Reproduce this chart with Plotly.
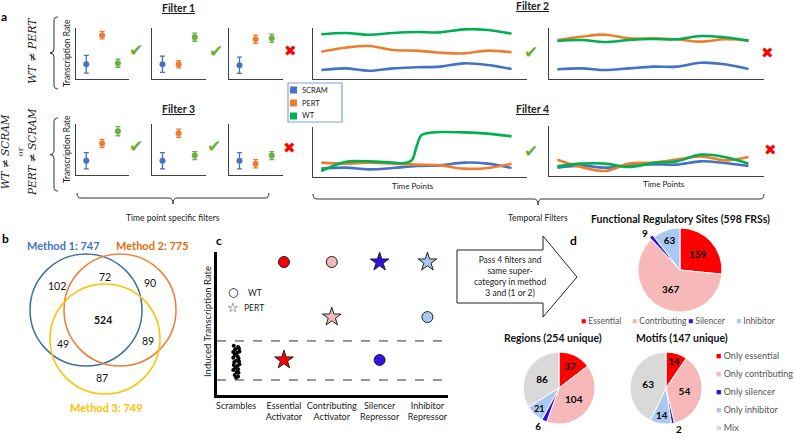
import plotly.graph_objects as go

W, H = 795, 439
FONT = "Lato, 'Open Sans', sans-serif"

# ======================= DATA =======================
# Panel a - time point specific filters (x = condition, y = transcription rate)
conditions = ["SCRAM", "PERT", "WT"]
cond_pos = [1, 2, 3]
filter1_vals = [[2.9, 8.6, 3.1], [2.9, 2.9, 8.2], [2.7, 7.8, 8.0]]
filter1_err = [[1.75, 0.75, 0.8], [1.6, 0.7, 0.8], [1.6, 0.8, 0.8]]
filter3_vals = [[2.8, 6.2, 8.6], [2.8, 8.2, 3.8], [2.8, 2.2, 3.8]]
filter3_err = [[1.6, 0.8, 0.9], [1.6, 0.8, 0.8], [1.6, 0.8, 0.8]]
filter13_pass = [True, True, False]

# Panel a - temporal filters
time_points = [0, 1, 2, 3, 4, 5, 6, 7, 8]
f2_pass_scram = [1.76, 2.09, 1.63, 2.09, 2.29, 2.42, 3.07, 2.75, 1.96]
f2_pass_pert = [5.36, 6.14, 6.47, 5.69, 5.56, 5.16, 5.03, 5.56, 5.23]
f2_pass_wt = [8.76, 9.02, 8.69, 9.02, 9.22, 9.15, 9.74, 9.61, 8.89]
f2_fail_scram = [1.90, 2.09, 1.76, 2.09, 2.42, 2.42, 3.20, 2.88, 1.96]
f2_fail_pert = [7.65, 8.30, 8.69, 7.97, 7.97, 7.78, 7.32, 7.78, 7.52]
f2_fail_wt = [7.45, 7.65, 7.25, 7.65, 7.84, 7.78, 8.43, 8.17, 7.52]
f4_pass_scram = [1.67, 1.87, 1.53, 1.80, 2.20, 2.33, 2.87, 2.67, 1.80]
f4_pass_pert = [2.87, 2.67, 2.87, 2.67, 2.47, 2.33, 1.67, 1.80, 2.67]
f4_pass_wt_time = [0, 1, 2, 3, 3.5, 3.8, 4.0, 4.2, 4.5, 5, 6, 7, 8]
f4_pass_wt = [1.2, 3.0, 3.13, 2.87, 2.8, 3.33, 6.0, 8.33, 8.8, 9.0, 8.93, 8.67, 8.13]
f4_fail_scram = [1.67, 2.07, 1.67, 2.13, 2.33, 2.27, 2.93, 2.60, 2.00]
f4_fail_pert = [3.27, 1.80, 1.00, 2.47, 2.67, 3.27, 3.93, 3.13, 3.80]
f4_fail_wt = [1.93, 2.47, 2.47, 1.80, 2.60, 2.93, 4.27, 3.80, 2.47]

# Panel b - Venn counts
venn_totals = [747, 775, 749]
venn_regions = ["1 only", "1&2 only", "2 only", "1&2&3", "1&3 only", "2&3 only", "3 only"]
venn_counts = [102, 72, 90, 524, 49, 89, 87]

# Panel c - schematic categories
c_categories = ["Scrambles", "Essential<br>Activator", "Contributing<br>Activator",
                "Silencer<br>Repressor", "Inhibitor<br>Repressor"]
c_pos = [0, 1, 2, 3, 4]
c_wt = [9.3, 9.3, 2.45, 5.45]
c_pert = [2.45, 5.45, 9.3, 9.3]
c_thresholds = [3.78, 1.05]
scramble_x = [-0.05, 0.04, -0.02, 0.06, -0.06, 0.02, 0.07, -0.03, 0.03, -0.06, 0.05, 0.0,
              -0.04, 0.06, -0.05, 0.03, 0.07, -0.02, 0.04, -0.06, 0.01, 0.05, -0.03, 0.04, 0.0]
scramble_y = [3.45, 3.35, 3.2, 3.25, 3.0, 2.95, 3.05, 2.8, 2.7, 2.6, 2.55, 2.4, 2.3, 2.35,
              2.1, 2.05, 2.15, 1.9, 1.8, 1.75, 1.6, 1.55, 1.4, 1.3, 1.2]

# Panel d - pies
frs_labels = ["Essential", "Contributing", "Silencer", "Inhibitor"]
frs_values = [159, 367, 9, 63]
sub_labels = ["Only essential", "Only contributing", "Only silencer", "Only inhibitor", "Mix"]
regions_values = [37, 104, 6, 21, 86]
motifs_values = [14, 54, 2, 14, 63]

# ======================= STYLE =======================
COND_COL = {"SCRAM": "#4472C4", "PERT": "#ED7D31", "WT": "#70AD47"}
LINE_COL = {"SCRAM": "#4472C4", "PERT": "#ED7D31", "WT": "#00B050"}
CAT_COL = ["#FF0000", "#F6B8B8", "#2F12E6", "#A9C9F2"]
SUB_COL = CAT_COL + ["#D9D9D9"]


def px(x):
    return x / W


def py(y):
    return 1 - y / H


def P(x, y):
    return f"{px(x):.5f},{py(y):.5f}"


fig = go.Figure()
layout_axes = {}
shapes = []
annotations = []


def add_axes(n, xd, yd, xr, yr, lw=1.3, lc="#404040"):
    xk = "xaxis" if n == 1 else f"xaxis{n}"
    yk = "yaxis" if n == 1 else f"yaxis{n}"
    ya = "y" if n == 1 else f"y{n}"
    xa = "x" if n == 1 else f"x{n}"
    common = dict(showline=True, linecolor=lc, linewidth=lw, showgrid=False,
                  zeroline=False, showticklabels=False, ticks="", fixedrange=True)
    layout_axes[xk] = dict(domain=[px(xd[0]), px(xd[1])], range=xr, anchor=ya, **common)
    layout_axes[yk] = dict(domain=[py(yd[1]), py(yd[0])], range=yr, anchor=xa, **common)
    return xa, ya


def ann(text, x, y, size=9, color="#000", angle=0, xanchor="center", yanchor="middle", family=FONT):
    annotations.append(dict(text=text, x=px(x), y=py(y), xref="paper", yref="paper",
                            showarrow=False, textangle=angle, xanchor=xanchor, yanchor=yanchor,
                            font=dict(size=size, color=color, family=family)))


def check(x, y):
    ann("✔", x, y, size=17, color="#6AAE35", family="DejaVu Sans")


def cross(x, y):
    ann("✖", x, y, size=15, color="#FF0000", family="DejaVu Sans")


# ---------- panel a : scatter filters ----------
scat_x = [(76, 129), (152, 206), (229, 283)]
n = 1
for row, (vals, errs, yd) in enumerate([(filter1_vals, filter1_err, (28, 79)),
                                        (filter3_vals, filter3_err, (124, 175))]):
    for k, xd in enumerate(scat_x):
        xa, ya = add_axes(n, xd, yd, [0.35, 3.7], [0, 10])
        for i, c in enumerate(conditions):
            fig.add_trace(go.Scatter(
                x=[cond_pos[i]], y=[vals[k][i]], xaxis=xa, yaxis=ya, mode="markers",
                marker=dict(color=COND_COL[c], size=6),
                error_y=dict(type="data", array=[errs[k][i]], color=COND_COL[c], thickness=1.3, width=2.5),
                showlegend=False, hoverinfo="skip"))
        n += 1

# ---------- panel a : temporal filters ----------
line_sets = [
    ((313, 527), (28, 79), [(time_points, f2_pass_scram, "SCRAM"), (time_points, f2_pass_pert, "PERT"), (time_points, f2_pass_wt, "WT")]),
    ((549, 764), (28, 79), [(time_points, f2_fail_scram, "SCRAM"), (time_points, f2_fail_pert, "PERT"), (time_points, f2_fail_wt, "WT")]),
    ((313, 527), (127, 177), [(time_points, f4_pass_scram, "SCRAM"), (time_points, f4_pass_pert, "PERT"), (f4_pass_wt_time, f4_pass_wt, "WT")]),
    ((549, 764), (126, 176), [(time_points, f4_fail_scram, "SCRAM"), (time_points, f4_fail_pert, "PERT"), (time_points, f4_fail_wt, "WT")]),
]
for xd, yd, series in line_sets:
    xa, ya = add_axes(n, xd, yd, [-0.35, 8.65], [0, 10])
    for t, v, c in series:
        fig.add_trace(go.Scatter(x=t, y=v, xaxis=xa, yaxis=ya, mode="lines",
                                 line=dict(color=LINE_COL[c], width=2.6, shape="spline", smoothing=1.0),
                                 showlegend=False, hoverinfo="skip"))
    n += 1

# ---------- panel c ----------
cxa, cya = add_axes(n, (217, 448), (252, 395), [-0.4, 4.43], [0, 10], lw=2.6, lc="#000")
layout_axes["xaxis11"].update(showticklabels=True, tickvals=c_pos, ticktext=c_categories,
                              tickfont=dict(size=9, color="#222", family=FONT), ticklen=0)
for thr in c_thresholds:
    shapes.append(dict(type="line", xref="x11 domain", yref="y11", x0=0, x1=1, y0=thr, y1=thr,
                       line=dict(color="#333", width=1, dash="dash")))
fig.add_trace(go.Scatter(x=scramble_x, y=scramble_y, xaxis=cxa, yaxis=cya, mode="markers",
                         marker=dict(color="#000", size=4), showlegend=False, hoverinfo="skip"))
fig.add_trace(go.Scatter(x=c_pos[1:], y=c_wt, xaxis=cxa, yaxis=cya, mode="markers",
                         marker=dict(color=CAT_COL, size=11, symbol="circle", line=dict(color="#222", width=1)),
                         showlegend=False, hoverinfo="skip"))
fig.add_trace(go.Scatter(x=c_pos[1:], y=c_pert, xaxis=cxa, yaxis=cya, mode="markers",
                         marker=dict(color=CAT_COL, size=14, symbol="star", line=dict(color="#222", width=1)),
                         showlegend=False, hoverinfo="skip"))

# ---------- panel d : pies ----------
def pie_domain(cx, cy, r, pull=0.0):
    h = r * (1 + pull)
    return dict(x=[px(cx - h), px(cx + h)], y=[py(cy + h), py(cy - h)])


fig.add_trace(go.Pie(labels=frs_labels, values=frs_values, sort=False, direction="clockwise",
                     marker=dict(colors=CAT_COL, line=dict(color="white", width=1)),
                     pull=[0, 0, 0.06, 0], domain=pie_domain(680, 270, 42, 0.06),
                     texttemplate="<b>%{value}</b>",
                     textposition=["inside", "inside", "outside", "inside"],
                     insidetextorientation="horizontal",
                     textfont=dict(size=10, color="#000", family=FONT),
                     showlegend=False, hoverinfo="skip"))
for cx, vals in [(559, regions_values), (666, motifs_values)]:
    fig.add_trace(go.Pie(labels=sub_labels, values=vals, sort=False, direction="clockwise",
                         marker=dict(colors=SUB_COL, line=dict(color="white", width=1)),
                         domain=pie_domain(cx, 388, 36),
                         texttemplate="<b>%{value}</b>",
                         textposition=["inside", "inside", "outside", "inside", "inside"],
                         insidetextorientation="horizontal",
                         textfont=dict(size=10, color="#000", family=FONT),
                         showlegend=False, hoverinfo="skip"))

# ======================= ANNOTATIONS / DECOR =======================
# panel labels
for lab, x, y in [("a", 4, 17), ("b", 5, 238), ("c", 219, 240), ("d", 573, 240)]:
    ann(f"<b>{lab}</b>", x, y, size=12)

# filter titles
ann("<b><u>Filter 1</u></b>", 178, 8, size=10.5, color="#222")
ann("<b><u>Filter 2</u></b>", 532, 6, size=10.5, color="#222")
ann("<b><u>Filter 3</u></b>", 178, 109, size=10.5, color="#222")
ann("<b><u>Filter 4</u></b>", 532, 109, size=10.5, color="#222")

# left side criteria
ann("<i>WT ≠ PERT</i>", 32, 51, size=11, angle=-90, family="'DejaVu Serif', serif", color="#222")
ann("<i>WT ≠ SCRAM</i><br><span style='font-size:8px'>or</span><br><i>PERT ≠ SCRAM</i>",
    18, 152, size=10.5, angle=-90, family="'DejaVu Serif', serif", color="#222")
ann("Transcription Rate", 67, 53, size=8.5, angle=-90, color="#222")
ann("Transcription Rate", 67, 149, size=8.5, angle=-90, color="#222")


def vbrace(x, y0, y1, d=4, r=4):
    ym = (y0 + y1) / 2
    return ("M" + P(x + d, y0) + " Q" + P(x, y0) + " " + P(x, y0 + r) + " L" + P(x, ym - r) +
            " Q" + P(x, ym) + " " + P(x - d, ym) + " Q" + P(x, ym) + " " + P(x, ym + r) +
            " L" + P(x, y1 - r) + " Q" + P(x, y1) + " " + P(x + d, y1))


def hbrace(x0, x1, y, xm, d=5, r=4):
    return ("M" + P(x0, y - d) + " Q" + P(x0, y) + " " + P(x0 + r, y) + " L" + P(xm - r, y) +
            " Q" + P(xm, y) + " " + P(xm, y + d + 1) + " Q" + P(xm, y) + " " + P(xm + r, y) +
            " L" + P(x1 - r, y) + " Q" + P(x1, y) + " " + P(x1, y - d))


for path in [vbrace(54, 17, 89), vbrace(54, 118, 191),
             hbrace(77, 269, 198, 173), hbrace(313, 764, 199, 538)]:
    shapes.append(dict(type="path", path=path, xref="paper", yref="paper",
                       line=dict(color="#333", width=1)))
ann("Time point specific filters", 173, 218, size=8.5, color="#222")
ann("Temporal Filters", 538, 218, size=8.5, color="#222")
ann("Time Points", 413, 186, size=8, color="#222")
ann("Time Points", 664, 184, size=8, color="#222")

# checks and crosses
for x, y in [(136, 50), (216, 51), (136, 146), (214, 146), (531, 52), (531, 151)]:
    check(x, y)
for x, y in [(290, 51), (289, 148), (767, 53), (770, 150)]:
    cross(x, y)

# panel a legend box
shapes.append(dict(type="rect", xref="paper", yref="paper", x0=px(288), x1=px(342),
                   y0=py(122), y1=py(83), line=dict(color="#7FA6D6", width=1.2), fillcolor="white"))
for i, c in enumerate(conditions):
    yy = 90 + 13 * i
    shapes.append(dict(type="rect", xref="paper", yref="paper", x0=px(290), x1=px(297),
                       y0=py(yy + 3.5), y1=py(yy - 3.5), line=dict(width=0), fillcolor=LINE_COL[c]))
    ann(c, 300, yy, size=7.5, xanchor="left", color="#222")

# ---------- panel b : Venn ----------
venn_circles = [((86, 310, 56), "#41719C"), ((120, 310, 56), "#ED7D31"), ((105, 339, 55), "#FFC000")]
for (cx, cy, r), col in venn_circles:
    shapes.append(dict(type="circle", xref="paper", yref="paper", x0=px(cx - r), x1=px(cx + r),
                       y0=py(cy + r), y1=py(cy - r), line=dict(color=col, width=1.5)))
method_pos = [(63, 245, "#4472C4"), (152, 245, "#E46C0A"), (106, 407, "#FFC000")]
for i, (x, y, col) in enumerate(method_pos):
    ann(f"<b>Method {i + 1}: {venn_totals[i]}</b>", x, y, size=11, color=col)
venn_text_pos = [(57, 286), (105, 277), (150, 283), (103, 320), (63, 344), (148, 341), (102, 378)]
for (x, y), name, cnt in zip(venn_text_pos, venn_regions, venn_counts):
    txt = f"<b>{cnt}</b>" if name == "1&2&3" else str(cnt)
    ann(txt, x, y, size=10.5, color="#111")

# ---------- panel c extras ----------
ann("Induced Transcription Rate", 207, 322, size=9.5, angle=-90, color="#222")
ann("○", 233, 292, size=12, color="#111", family="DejaVu Sans")
ann("WT", 246, 293, size=8.5, xanchor="left", color="#222")
ann("☆", 233, 307, size=13, color="#111", family="DejaVu Sans")
ann("PERT", 242, 308, size=8.5, xanchor="left", color="#222")

# arrow box
arrow = ("M" + P(457, 250) + " L" + P(543, 250) + " L" + P(543, 236) + " L" + P(577, 277) +
         " L" + P(543, 317) + " L" + P(543, 303) + " L" + P(457, 303) + " Z")
shapes.append(dict(type="path", path=arrow, xref="paper", yref="paper",
                   line=dict(color="#222", width=1), fillcolor="white"))
ann("Pass 4 filters and<br>same super-<br>category in method<br>3 and (1 or 2)", 510, 276,
    size=8.5, color="#222")

# ---------- panel d text ----------
ann(f"<b>Functional Regulatory Sites ({sum(frs_values)} FRSs)</b>", 680, 219, size=10.5, color="#111")
ann(f"<b>Regions ({sum(regions_values)} unique)</b>", 553, 338, size=10.5, color="#111")
ann(f"<b>Motifs ({sum(motifs_values)} unique)</b>", 682, 338, size=10.5, color="#111")
leg_x = [579, 630, 686, 734]
for x, lab, col in zip(leg_x, frs_labels, CAT_COL):
    ann(f"<span style='color:{col}'>■</span> {lab}", x, 321, size=8.5, xanchor="left", color="#555")
for i, (lab, col) in enumerate(zip(sub_labels, SUB_COL)):
    ann(f"<span style='color:{col}'>■</span> {lab}", 714, 355 + 18 * i, size=9, xanchor="left", color="#555")

fig.update_layout(width=W, height=H, margin=dict(l=0, r=0, t=0, b=0),
                  paper_bgcolor="white", plot_bgcolor="rgba(0,0,0,0)",
                  font=dict(family=FONT), showlegend=False,
                  shapes=shapes, annotations=annotations, **layout_axes)
fig.write_html("out.html", config={"displayModeBar": False},
               post_script="document.body.style.margin='0px';document.body.style.overflow='hidden';")
